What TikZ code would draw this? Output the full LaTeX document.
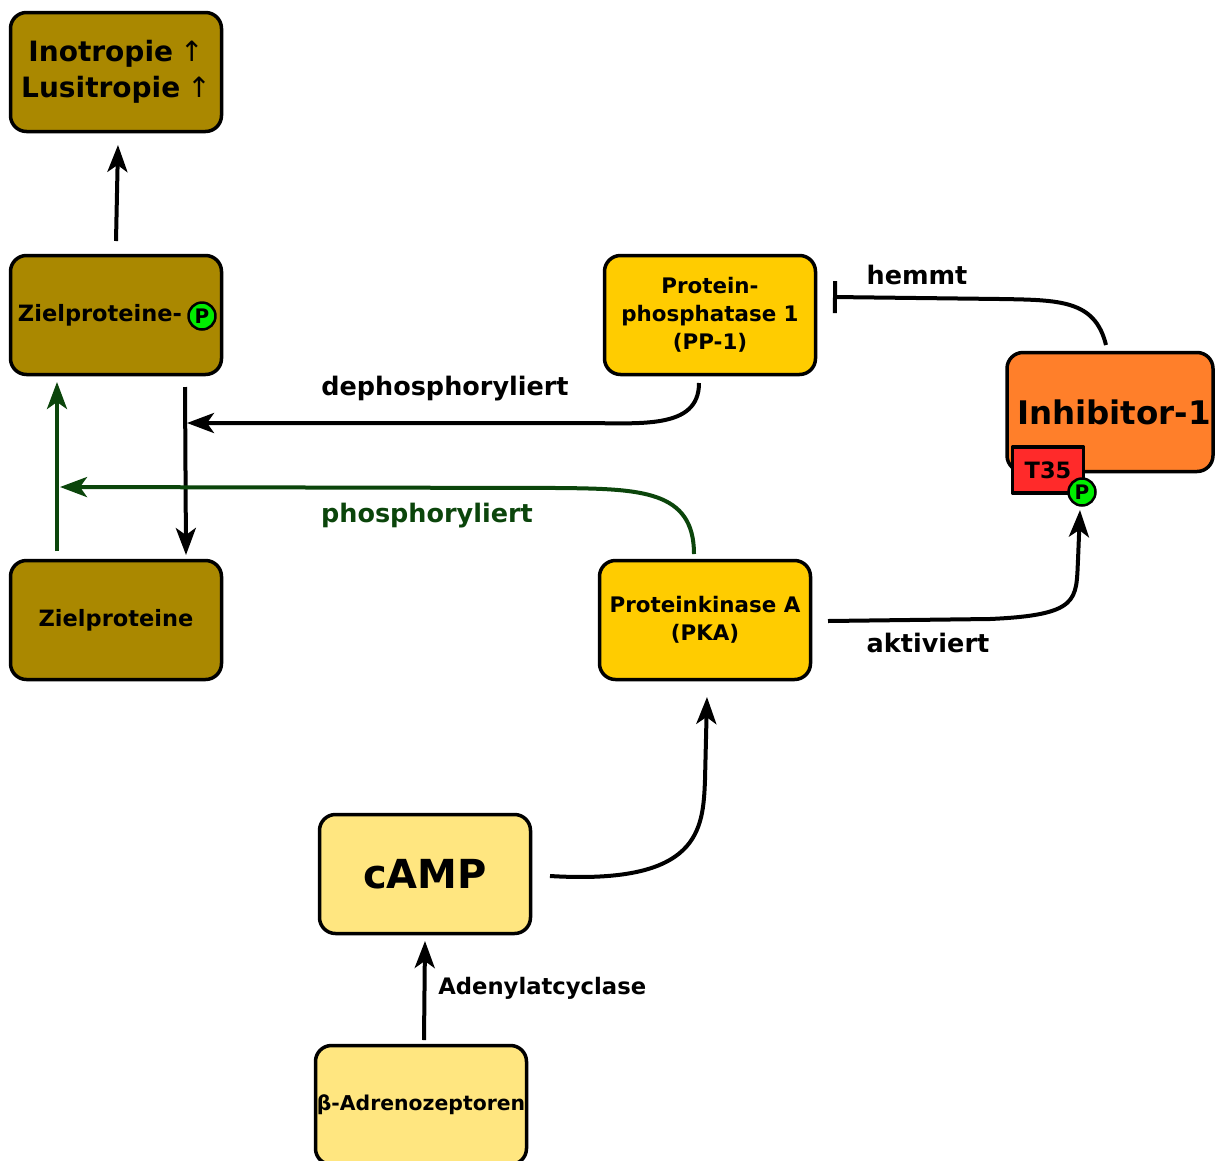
\documentclass[tikz,border=0pt]{standalone}
\usepackage{fontspec}
\setmainfont{DejaVu Sans}
\usetikzlibrary{arrows.meta}

\definecolor{zielcol}{HTML}{AA8800}
\definecolor{enzcol}{HTML}{FFCC00}
\definecolor{campcol}{HTML}{FFE680}
\definecolor{inhcol}{HTML}{FF7F2A}
\definecolor{t35col}{HTML}{FF2A2A}
\definecolor{phoscol}{HTML}{00EE00}
\definecolor{phosarrow}{HTML}{0B450B}

\newcommand{\phosP}[2]{\node [phos] (#1) at (#2) {P};}

\begin{document}
\begin{tikzpicture}[x=1pt,y=-1pt,line width=4pt,line join=round,
    >={Stealth[length=27pt,width=20pt,inset=7pt]},
    box/.style={draw=black,line width=3.5pt,rounded corners=16pt,minimum width=211pt,minimum height=119pt,
      inner xsep=0pt,align=center,font=\bfseries\fontsize{21.4}{28}\selectfont},
    lbl/.style={font=\bfseries\fontsize{25.5}{28}\selectfont},
    phos/.style={circle,draw=black,fill=phoscol,line width=2.5pt,inner sep=0pt,minimum size=27pt,
      font=\bfseries\fontsize{20}{20}\selectfont}]
  \useasboundingbox (0,0) rectangle (1216,1160);

  % boxes
  \node [box,fill=zielcol,font=\bfseries\fontsize{28}{36}\selectfont] (ino) at (116,72) {Inotropie\hspace{0.25em}\textmd{↑}\\Lusitropie\hspace{0.25em}\textmd{↑}};
  \node [box,fill=zielcol] (zielP) at (116,315) {};
  \node [font=\bfseries\fontsize{22.5}{26}\selectfont] (zielPtext) at (100,315) {Zielproteine-};
  \phosP{zielPp}{202,316}
  \node [box,fill=zielcol,font=\bfseries\fontsize{22.5}{26}\selectfont] (ziel) at (116,620) {Zielproteine};
  \node [box,fill=enzcol] (pp1) at (710,315) {Protein-\\phosphatase 1\\(PP-1)};
  \node [box,fill=enzcol] (pka) at (705,620) {Proteinkinase A\\(PKA)};
  \node [box,fill=inhcol,minimum width=206pt,font=\bfseries\fontsize{32.5}{36}\selectfont] (inh) at (1110,412) {\hspace{8pt}Inhibitor-1};
  \node [draw=black,line width=3.5pt,fill=t35col,minimum width=71pt,minimum height=46pt,
    font=\bfseries\fontsize{22.5}{26}\selectfont] (t35) at (1048,470) {T35};
  \phosP{t35p}{1082,492}
  \node [box,fill=campcol,font=\bfseries\fontsize{40}{44}\selectfont] (camp) at (425,874) {cAMP};
  \node [box,fill=campcol,font=\bfseries\fontsize{20.4}{24}\selectfont] (beta) at (421,1105) {β-Adrenozeptoren};

  % connectors
  \coordinate (zpTop) at (116,241);
  \coordinate (inoBot) at (118,145);
  \draw [->] (zpTop) -- (inoBot);

  \coordinate (gUp1) at (57,551);
  \coordinate (gUp2) at (57,382);
  \draw [->,phosarrow] (gUp1) -- (gUp2);
  \coordinate (dn1) at (185,387);
  \coordinate (dn2) at (186,555);
  \draw [->] (dn1) -- (dn2);

  \coordinate (ppOut) at (699,383);
  \coordinate (dephEnd) at (187,423);
  \draw [->] (ppOut) .. controls (699,430) and (640,423) .. (580,423) -- (dephEnd);
  \node [lbl] (dephLbl) at (445,389) {dephosphoryliert};

  \coordinate (pkaOut) at (694,554);
  \coordinate (phosEnd) at (60,487);
  \draw [->,phosarrow] (pkaOut) .. controls (694,490) and (640,489) .. (560,488) -- (phosEnd);
  \node [lbl,text=phosarrow] (phosLbl) at (427,516) {phosphoryliert};

  \coordinate (inhTop) at (1106,345);
  \coordinate (hemmEnd) at (833,297);
  \draw [-{Bar[width=32pt]}] (inhTop) .. controls (1095,300) and (1060,300) .. (1000,299) -- (hemmEnd);
  \node [lbl] (hemmLbl) at (917,275) {hemmt};

  \coordinate (pkaRight) at (828,621);
  \coordinate (aktEnd) at (1080,510);
  \draw [->] (pkaRight) -- (990,619) .. controls (1080,615) and (1076,600) .. (1078,560) -- (aktEnd);
  \node [lbl] (aktLbl) at (928,643) {aktiviert};

  \coordinate (campOut) at (550,876);
  \coordinate (pkaIn) at (707,697);
  \draw [->] (campOut) .. controls (700,885) and (703,830) .. (705,780) -- (pkaIn);

  \coordinate (betaTop) at (424,1040);
  \coordinate (campIn) at (425,941);
  \draw [->] (betaTop) -- (campIn);
  \node [lbl,anchor=west,font=\bfseries\fontsize{22.7}{26}\selectfont] (acLbl) at (433,988) {Adenylatcyclase};
\end{tikzpicture}
\end{document}
